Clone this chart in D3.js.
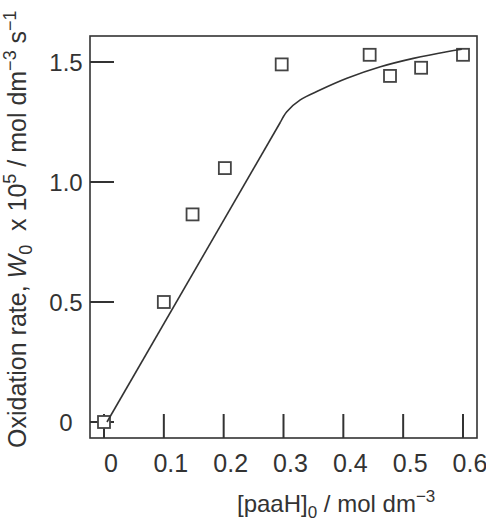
<!DOCTYPE html>
<html>
<head>
<meta charset="utf-8">
<script src="https://cdn.jsdelivr.net/npm/d3@7"></script>
<style>
  html, body { margin: 0; padding: 0; background: #fff; }
  text { font-family: 'Liberation Sans', Arial, sans-serif; fill: #333; }
</style>
</head>
<body>
<svg id="chart" width="486" height="522"></svg>
<script>
// tick values and labels
const xTicks = [0, 0.1, 0.2, 0.3, 0.4, 0.5, 0.6];
const xTickLabels = ['0', '0.1', '0.2', '0.3', '0.4', '0.5', '0.6'];
const yTicks = [0, 0.5, 1.0, 1.5];
const yTickLabels = ['0', '0.5', '1.0', '1.5'];

// measured points: [paaH]0 vs W0 x 10^5
const obsX = [0, 0.1, 0.148, 0.202, 0.297, 0.444, 0.478, 0.53, 0.6];
const obsY = [0, 0.5, 0.865, 1.058, 1.49, 1.53, 1.442, 1.476, 1.53];

// fitted line: straight part then curved branch
const fitLinX = [0.005, 0.295];
const fitLinY = [0, 1.25];
const fitCurveX = [0.295, 0.3055, 0.328, 0.361, 0.406, 0.462, 0.517, 0.573, 0.598];
const fitCurveY = [1.25, 1.293, 1.342, 1.383, 1.432, 1.48, 1.515, 1.543, 1.553];

const frame = { left: 90, right: 477, top: 36, bottom: 438 };
const tickLen = 24;

const svg = d3.select('#chart');

const x = d3.scaleLinear().domain([0, 0.6]).range([104, 463]);
const y = d3.scaleLinear().domain([0, 1.5]).range([422, 62]);

// plot frame
svg.append('rect')
  .attr('x', frame.left)
  .attr('y', frame.top)
  .attr('width', frame.right - frame.left)
  .attr('height', frame.bottom - frame.top)
  .attr('fill', 'none')
  .attr('stroke', '#333')
  .attr('stroke-width', 1.6);

// x ticks point up from the bottom edge
svg.append('g')
  .attr('class', 'xTicks')
  .selectAll('line')
  .data(xTicks)
  .join('line')
    .attr('x1', (d) => x(d))
    .attr('x2', (d) => x(d))
    .attr('y1', frame.bottom)
    .attr('y2', frame.bottom - tickLen)
    .attr('stroke', '#333')
    .attr('stroke-width', 2);

svg.append('g')
  .attr('class', 'xLabels')
  .selectAll('text')
  .data(xTicks)
  .join('text')
    .attr('x', (d) => x(d) + 7)
    .attr('y', 472)
    .attr('text-anchor', 'middle')
    .style('font-size', '25px')
    .text((d, i) => xTickLabels[i]);

// y ticks point right from the left edge
svg.append('g')
  .attr('class', 'yTicks')
  .selectAll('line')
  .data(yTicks)
  .join('line')
    .attr('x1', frame.left)
    .attr('x2', frame.left + tickLen)
    .attr('y1', (d) => y(d))
    .attr('y2', (d) => y(d))
    .attr('stroke', '#333')
    .attr('stroke-width', 2);

svg.append('g')
  .attr('class', 'yLabels')
  .selectAll('text')
  .data(yTicks)
  .join('text')
    .attr('x', 66)
    .attr('y', (d) => y(d) + 9)
    .attr('text-anchor', 'middle')
    .style('font-size', '24px')
    .text((d, i) => yTickLabels[i]);

// data squares
const sq = 12;
svg.append('g')
  .attr('class', 'points')
  .selectAll('rect')
  .data(obsX.map((v, i) => [v, obsY[i]]))
  .join('rect')
    .attr('x', (d) => x(d[0]) - sq / 2)
    .attr('y', (d) => y(d[1]) - sq / 2)
    .attr('width', sq)
    .attr('height', sq)
    .attr('fill', '#fff')
    .attr('stroke', '#444')
    .attr('stroke-width', 1.8);

// fitted curve
const lin = d3.line().x((d) => x(d[0])).y((d) => y(d[1]));
svg.append('path')
  .attr('d', lin(fitLinX.map((v, i) => [v, fitLinY[i]])))
  .attr('fill', 'none')
  .attr('stroke', '#333')
  .attr('stroke-width', 1.6);
svg.append('path')
  .attr('d', lin.curve(d3.curveCatmullRom)(fitCurveX.map((v, i) => [v, fitCurveY[i]])))
  .attr('fill', 'none')
  .attr('stroke', '#333')
  .attr('stroke-width', 1.6);

// axis titles
const xTitle = svg.append('text')
  .attr('x', 237)
  .attr('y', 512)
  .style('font-size', '24px');
xTitle.append('tspan').text('[paaH]');
xTitle.append('tspan').attr('dy', 6).style('font-size', '17px').text('0');
xTitle.append('tspan').attr('dy', -6).text(' / mol dm');
xTitle.append('tspan').attr('dy', -10).style('font-size', '17px').text('\u22123');

const yTitle = svg.append('text')
  .attr('transform', 'translate(26,448) rotate(-90)')
  .style('font-size', '25px');
yTitle.append('tspan').text('Oxidation rate, ');
yTitle.append('tspan').style('font-style', 'italic').text('W');
yTitle.append('tspan').attr('dy', 6).style('font-size', '18px').text('0');
yTitle.append('tspan').attr('dy', -6).text('\u00a0 x 10');
yTitle.append('tspan').attr('dy', -10).style('font-size', '18px').text('5');
yTitle.append('tspan').attr('dy', 10).text(' / mol dm');
yTitle.append('tspan').attr('dy', -10).style('font-size', '18px').text('\u22123');
yTitle.append('tspan').attr('dy', 10).text(' s');
yTitle.append('tspan').attr('dy', -10).style('font-size', '18px').text('\u22121');
</script>
</body>
</html>
